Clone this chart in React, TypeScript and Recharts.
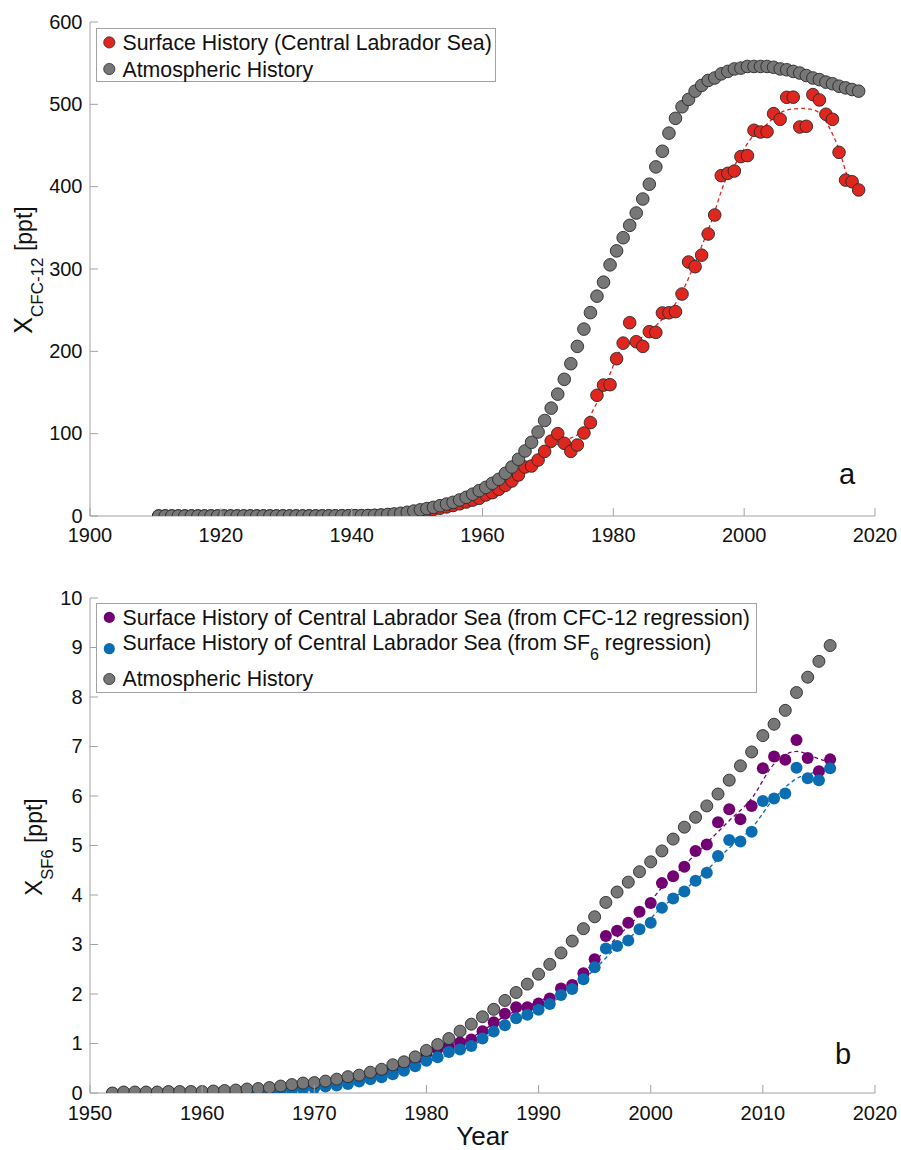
import React from "react";
import { ComposedChart, Scatter, Line, XAxis, YAxis, Legend } from "recharts";

const FONT = '"Liberation Sans", Arial, Helvetica, sans-serif';
const AXIS_COLOR = "#a3a3a3";
const TEXT_COLOR = "#111111";
const TICK_LEN = 8;

const RED = "#e0271f";
const GREY = "#777777";
const PURPLE = "#720072";
const BLUE = "#0a6db2";
const EDGE = "#2a2a2a";

// ---- panel a: CFC-12 ----
const cfcFirstYear = 1910.5;
// atmospheric history, one value per year from 1910.5
const cfcAtmos = [
  0, 0, 0, 0, 0, 0, 0, 0, 0, 0, 0, 0, 0, 0, 0, 0, 0, 0, 0, 0, 0,
  0.01, 0.02, 0.03, 0.05, 0.07, 0.1, 0.13, 0.17, 0.22, 0.3, 0.4, 0.55, 0.8, 1.2, 1.8, 2.5, 3.3,
  4.5, 6, 7.5, 9, 10.5, 12.5, 14.5, 16.6, 19.5, 22.7, 26.5, 30.8,
  34.8, 39.7, 44.6, 51.9, 59.5, 68.9, 79, 89.5, 102, 116, 131, 148, 166, 185, 206, 227, 247, 267,
  284, 305, 322, 338, 353, 368, 385, 403, 424, 443, 465, 483, 497, 506, 516, 523, 529, 532, 537,
  540, 543, 544, 546, 546, 546, 546, 545, 543, 542, 540, 538, 535, 532, 530, 527, 525, 522, 520,
  518, 516,
];
// surface history, central Labrador Sea
const cfcSurface = [
  0, 0, 0, 0, 0, 0, 0, 0, 0, 0, 0, 0, 0, 0, 0, 0, 0, 0, 0, 0, 0,
  0.01, 0.02, 0.03, 0.04, 0.06, 0.08, 0.1, 0.14, 0.18, 0.24, 0.32, 0.45, 0.65, 0.9, 1.3, 1.8, 2.3,
  3.2, 4.3, 5.5, 6.8, 8, 9.5, 11, 12.8, 14.8, 17, 19.3, 21.5,
  25.5, 28.3, 32.4, 37.2, 42.5, 49.8, 59.5, 60.7, 68, 78.5, 91, 100, 88.3, 78.5, 86.2, 100.8,
  113.4, 146.6, 159, 159.5, 191, 210, 234.8, 211.7, 206, 223.9, 223, 246.6, 246.8, 248.2, 269.6,
  308.5, 302.8, 316.8, 342.5, 365.6, 413.4, 416.2, 419, 436.5, 437.7, 468.5, 466.4, 466.8, 488.7,
  481.8, 508.5, 508.7, 472.5, 473.3, 511.8, 505.3, 488, 481.8, 441.7, 408, 406, 396,
];
const cfcFitYears = [
  1947.5, 1952, 1956, 1960, 1964, 1967, 1970, 1973, 1975, 1977, 1979, 1981, 1983, 1985, 1987,
  1989, 1991, 1993, 1995, 1997, 1999, 2001, 2003, 2005, 2007, 2009, 2011, 2013, 2014.5, 2016, 2017.5,
];
const cfcFitValues = [
  2, 8, 15, 25, 40, 58, 80, 93, 102, 130, 163, 200, 212, 220, 235,
  252, 280, 318, 358, 405, 432, 458, 472, 487, 494, 495, 492, 472, 445, 408, 394,
];
const cfcXTicks = [1900, 1920, 1940, 1960, 1980, 2000, 2020];
const cfcYTicks = [0, 100, 200, 300, 400, 500, 600];

// ---- panel b: SF6 ----
const sf6FirstYear = 1952;
const sf6Atmos = [
  0, 0.02, 0.02, 0.02, 0.02, 0.03, 0.03, 0.03, 0.03, 0.04, 0.05, 0.06, 0.08, 0.09, 0.11, 0.14,
  0.17, 0.2, 0.21, 0.24, 0.28, 0.33, 0.36, 0.42, 0.48, 0.57, 0.63, 0.73, 0.86, 0.98, 1.1, 1.25,
  1.39, 1.54, 1.69, 1.87, 2.03, 2.2, 2.4, 2.6, 2.83, 3.07, 3.32, 3.56, 3.85, 4.06, 4.26, 4.47,
  4.67, 4.89, 5.13, 5.37, 5.57, 5.8, 6.04, 6.32, 6.61, 6.89, 7.22, 7.45, 7.73, 8.09, 8.4, 8.72, 9.04,
];
const sf6FromCfc = [
  0, 0.01, 0.01, 0.01, 0.01, 0.02, 0.02, 0.02, 0.02, 0.03, 0.03, 0.04, 0.05, 0.06, 0.08, 0.1,
  0.12, 0.15, 0.17, 0.2, 0.23, 0.27, 0.3, 0.35, 0.41, 0.48, 0.55, 0.66, 0.79, 0.89, 0.94, 1.02,
  1.08, 1.25, 1.43, 1.6, 1.73, 1.73, 1.81, 1.91, 2.11, 2.18, 2.42, 2.7, 3.17, 3.28, 3.44, 3.66,
  3.84, 4.24, 4.38, 4.57, 4.89, 5.02, 5.47, 5.73, 5.53, 5.8, 6.56, 6.8, 6.73, 7.13, 6.77, 6.5, 6.74,
];
const sf6FromSf6 = [
  0, 0.01, 0.01, 0.01, 0.01, 0.01, 0.01, 0.01, 0.01, 0.01, 0.02, 0.02, 0.02, 0.03, 0.04, 0.05,
  0.06, 0.08, 0.1, 0.13, 0.15, 0.18, 0.23, 0.28, 0.32, 0.38, 0.45, 0.54, 0.65, 0.72, 0.83, 0.88,
  0.95, 1.1, 1.24, 1.37, 1.51, 1.58, 1.68, 1.8, 1.98, 2.1, 2.3, 2.54, 2.92, 2.97, 3.08, 3.31,
  3.44, 3.74, 3.93, 4.07, 4.29, 4.45, 4.79, 5.11, 5.08, 5.28, 5.9, 5.95, 6.05, 6.57, 6.36, 6.32, 6.56,
];
const sf6FitYears = [
  1952, 1960, 1966, 1970, 1974, 1978, 1981, 1984, 1987, 1990, 1993, 1995, 1997, 1999, 2001,
  2003, 2005, 2007, 2009, 2011, 2013, 2015, 2016,
];
const sf6FitCfc = [
  0, 0.03, 0.1, 0.2, 0.33, 0.58, 0.88, 1.12, 1.55, 1.85, 2.2, 2.65, 3.15, 3.6, 4.15,
  4.6, 5.05, 5.5, 5.95, 6.65, 6.9, 6.75, 6.68,
];
const sf6FitSf6 = [
  0, 0.01, 0.04, 0.1, 0.22, 0.45, 0.7, 0.95, 1.35, 1.68, 2.1, 2.5, 2.95, 3.3, 3.75,
  4.1, 4.5, 4.95, 5.35, 5.95, 6.35, 6.5, 6.57,
];
const sf6XTicks = [1950, 1960, 1970, 1980, 1990, 2000, 2010, 2020];
const sf6YTicks = [0, 1, 2, 3, 4, 5, 6, 7, 8, 9, 10];

const yearly = (start: number, values: number[]) => values.map((v, i) => ({ year: start + i, v }));
const paired = (years: number[], values: number[]) => years.map((year, i) => ({ year, v: values[i] }));

const makeBottomTick = (gap: number) => (props: any) => {
  const { x, y, payload } = props;
  return (
    <g>
      <line x1={x} y1={y} x2={x} y2={y - TICK_LEN} stroke={AXIS_COLOR} />
      <text x={x} y={y + gap} textAnchor="middle" fontSize={20} fill={TEXT_COLOR}>
        {payload.value}
      </text>
    </g>
  );
};

const LeftTick = (props: any) => {
  const { x, y, payload } = props;
  return (
    <g>
      <line x1={x} y1={y} x2={x + TICK_LEN} y2={y} stroke={AXIS_COLOR} />
      <text x={x - 7.5} y={y + 6.5} textAnchor="end" fontSize={20} fill={TEXT_COLOR}>
        {payload.value}
      </text>
    </g>
  );
};

const TopTick = (props: any) => (
  <line x1={props.x} y1={props.y} x2={props.x} y2={props.y + TICK_LEN} stroke={AXIS_COLOR} />
);

const RightTick = (props: any) => (
  <line x1={props.x} y1={props.y} x2={props.x - TICK_LEN} y2={props.y} stroke={AXIS_COLOR} />
);

const dot = (fill: string, r: number, stroke?: string) => (props: any) => (
  <circle
    cx={props.cx}
    cy={props.cy}
    r={r}
    fill={fill}
    stroke={stroke ?? fill}
    strokeWidth={stroke ? 0.9 : 0}
  />
);

type LegendRow = { color: string; edge: boolean; label: React.ReactNode; markerY: number; textY: number };

const LegendBox = ({ width, height, rows }: { width: number; height: number; rows: LegendRow[] }) => (
  <svg width={width} height={height} style={{ display: "block", overflow: "visible" }}>
    <rect x={0.5} y={0.5} width={width - 1} height={height - 1} fill="#ffffff" stroke={AXIS_COLOR} />
    {rows.map((r, i) => (
      <g key={i}>
        <circle cx={13.3} cy={r.markerY} r={5.6} fill={r.color} stroke={r.edge ? EDGE : r.color} strokeWidth={r.edge ? 0.8 : 0} />
        <text x={26.5} y={r.textY} fontSize={21.3} fill={TEXT_COLOR}>
          {r.label}
        </text>
      </g>
    ))}
  </svg>
);

const cfcLegendRows: LegendRow[] = [
  { color: RED, edge: true, label: "Surface History (Central Labrador Sea)", markerY: 14.4, textY: 22.2 },
  { color: GREY, edge: true, label: "Atmospheric History", markerY: 41, textY: 48.7 },
];

const sf6LegendRows: LegendRow[] = [
  {
    color: PURPLE,
    edge: false,
    label: "Surface History of Central Labrador Sea (from CFC-12 regression)",
    markerY: 14.4,
    textY: 21.7,
  },
  {
    color: BLUE,
    edge: false,
    label: (
      <>
        Surface History of Central Labrador Sea (from SF
        <tspan fontSize={16} dy={10}>6</tspan>
        <tspan dy={-10}> regression)</tspan>
      </>
    ),
    markerY: 45.7,
    textY: 47,
  },
  { color: GREY, edge: true, label: "Atmospheric History", markerY: 76, textY: 82.7 },
];

const CfcYLabel = () => (
  <text transform="translate(32,270) rotate(-90)" textAnchor="middle" fill={TEXT_COLOR} fontSize={25}>
    X
    <tspan fontSize={17} dy={11}>CFC-12</tspan>
    <tspan fontSize={23} dy={-11}> [ppt]</tspan>
  </text>
);

const Sf6YLabel = () => (
  <text transform="translate(42,272) rotate(-90)" textAnchor="middle" fill={TEXT_COLOR} fontSize={24}>
    X
    <tspan fontSize={16.5} dy={11}>SF6</tspan>
    <tspan fontSize={23} dy={-11}> [ppt]</tspan>
  </text>
);

export default function App() {
  const cfcAtmosPts = yearly(cfcFirstYear, cfcAtmos);
  const cfcSurfPts = yearly(cfcFirstYear, cfcSurface);
  const cfcFitPts = paired(cfcFitYears, cfcFitValues);

  const sf6AtmosPts = yearly(sf6FirstYear, sf6Atmos);
  const sf6CfcPts = yearly(sf6FirstYear, sf6FromCfc);
  const sf6Sf6Pts = yearly(sf6FirstYear, sf6FromSf6);
  const sf6FitCfcPts = paired(sf6FitYears, sf6FitCfc);
  const sf6FitSf6Pts = paired(sf6FitYears, sf6FitSf6);

  return (
    <div style={{ position: "absolute", left: 0, top: 0, width: 901, height: 1150, background: "#ffffff", fontFamily: FONT }}>
      {/* panel a */}
      <div style={{ position: "absolute", left: 0, top: 0 }}>
        <ComposedChart width={901} height={575} margin={{ top: 22, right: 26, bottom: 19, left: 0 }}>
          <XAxis
            type="number"
            dataKey="year"
            domain={[1900, 2020]}
            ticks={cfcXTicks}
            interval={0}
            allowDataOverflow
            height={40}
            tickSize={0}
            tickMargin={0}
            tickLine={false}
            tick={makeBottomTick(25.5)}
            axisLine={{ stroke: AXIS_COLOR }}
          />
          <XAxis
            xAxisId="top"
            orientation="top"
            type="number"
            domain={[1900, 2020]}
            ticks={cfcXTicks}
            interval={0}
            allowDataOverflow
            height={0}
            tickSize={0}
            tickMargin={0}
            tickLine={false}
            tick={TopTick}
            axisLine={{ stroke: AXIS_COLOR }}
          />
          <YAxis
            type="number"
            dataKey="v"
            domain={[0, 600]}
            ticks={cfcYTicks}
            interval={0}
            allowDataOverflow
            width={90}
            tickSize={0}
            tickMargin={0}
            tickLine={false}
            tick={LeftTick}
            axisLine={{ stroke: AXIS_COLOR }}
            label={{ content: () => <CfcYLabel /> }}
          />
          <YAxis
            yAxisId="right"
            orientation="right"
            type="number"
            domain={[0, 600]}
            ticks={cfcYTicks}
            interval={0}
            allowDataOverflow
            width={0}
            tickSize={0}
            tickMargin={0}
            tickLine={false}
            tick={RightTick}
            axisLine={{ stroke: AXIS_COLOR }}
          />
          <Line
            data={cfcFitPts}
            dataKey="v"
            type="monotone"
            stroke={RED}
            strokeWidth={1.3}
            strokeDasharray="4 3"
            dot={false}
            activeDot={false}
            isAnimationActive={false}
          />
          <Scatter data={cfcSurfPts} dataKey="v" shape={dot(RED, 6.3, EDGE)} isAnimationActive={false} />
          <Scatter data={cfcAtmosPts} dataKey="v" shape={dot(GREY, 6.3, EDGE)} isAnimationActive={false} />
          <Legend
            layout="vertical"
            align="center"
            verticalAlign="middle"
            wrapperStyle={{ top: 28, left: 96, width: 400, height: 54 }}
            content={() => <LegendBox width={400} height={54} rows={cfcLegendRows} />}
          />
        </ComposedChart>
      </div>

      {/* panel b */}
      <div style={{ position: "absolute", left: 0, top: 575 }}>
        <ComposedChart width={901} height={575} margin={{ top: 23, right: 26, bottom: 0, left: 0 }}>
          <XAxis
            type="number"
            dataKey="year"
            domain={[1950, 2020]}
            ticks={sf6XTicks}
            interval={0}
            allowDataOverflow
            height={57}
            tickSize={0}
            tickMargin={0}
            tickLine={false}
            tick={makeBottomTick(27)}
            axisLine={{ stroke: AXIS_COLOR }}
            label={{ value: "Year", position: "insideBottom", offset: 5, fontSize: 26, fill: TEXT_COLOR }}
          />
          <XAxis
            xAxisId="top"
            orientation="top"
            type="number"
            domain={[1950, 2020]}
            ticks={sf6XTicks}
            interval={0}
            allowDataOverflow
            height={0}
            tickSize={0}
            tickMargin={0}
            tickLine={false}
            tick={TopTick}
            axisLine={{ stroke: AXIS_COLOR }}
          />
          <YAxis
            type="number"
            dataKey="v"
            domain={[0, 10]}
            ticks={sf6YTicks}
            interval={0}
            allowDataOverflow
            width={90}
            tickSize={0}
            tickMargin={0}
            tickLine={false}
            tick={LeftTick}
            axisLine={{ stroke: AXIS_COLOR }}
            label={{ content: () => <Sf6YLabel /> }}
          />
          <YAxis
            yAxisId="right"
            orientation="right"
            type="number"
            domain={[0, 10]}
            ticks={sf6YTicks}
            interval={0}
            allowDataOverflow
            width={0}
            tickSize={0}
            tickMargin={0}
            tickLine={false}
            tick={RightTick}
            axisLine={{ stroke: AXIS_COLOR }}
          />
          <Line
            data={sf6FitCfcPts}
            dataKey="v"
            type="monotone"
            stroke={PURPLE}
            strokeWidth={1.3}
            strokeDasharray="4 3"
            dot={false}
            activeDot={false}
            isAnimationActive={false}
          />
          <Line
            data={sf6FitSf6Pts}
            dataKey="v"
            type="monotone"
            stroke={BLUE}
            strokeWidth={1.3}
            strokeDasharray="4 3"
            dot={false}
            activeDot={false}
            isAnimationActive={false}
          />
          <Scatter data={sf6CfcPts} dataKey="v" shape={dot(PURPLE, 6)} isAnimationActive={false} />
          <Scatter data={sf6Sf6Pts} dataKey="v" shape={dot(BLUE, 6)} isAnimationActive={false} />
          <Scatter data={sf6AtmosPts} dataKey="v" shape={dot(GREY, 6, EDGE)} isAnimationActive={false} />
          <Legend
            layout="vertical"
            align="center"
            verticalAlign="middle"
            wrapperStyle={{ top: 28.3, left: 96, width: 661, height: 90 }}
            content={() => <LegendBox width={661} height={90} rows={sf6LegendRows} />}
          />
        </ComposedChart>
      </div>

      {/* panel letters */}
      <svg width={901} height={1150} style={{ position: "absolute", left: 0, top: 0, pointerEvents: "none" }}>
        <text x={839} y={484} fontSize={29} fill={TEXT_COLOR}>a</text>
        <text x={835} y={1064} fontSize={29} fill={TEXT_COLOR}>b</text>
      </svg>
    </div>
  );
}
